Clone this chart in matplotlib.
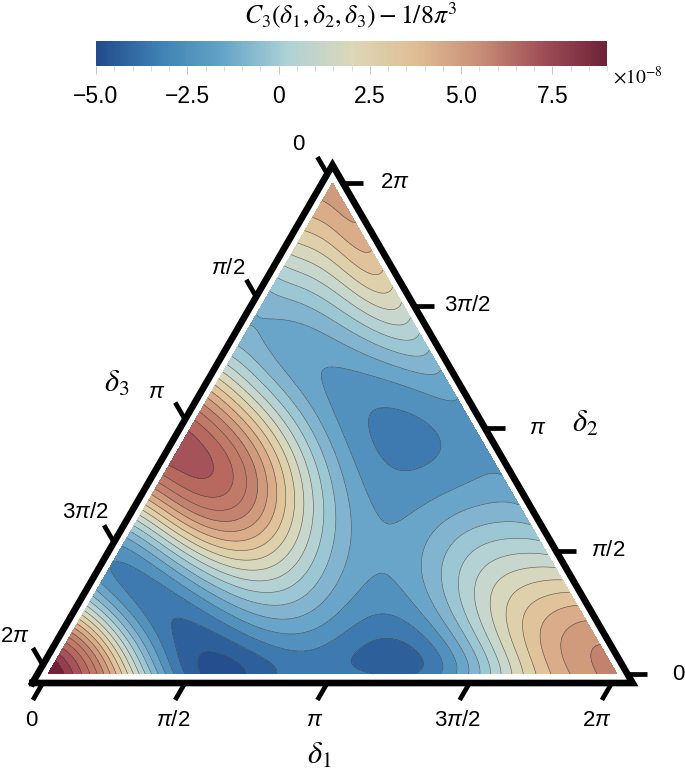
import numpy as np
import matplotlib
matplotlib.use('Agg')
import matplotlib.pyplot as plt
import matplotlib.tri as mtri
from matplotlib.colors import LinearSegmentedColormap

plt.rcParams['font.family'] = ['Liberation Sans', 'DejaVu Sans']
plt.rcParams['mathtext.fontset'] = 'custom'
plt.rcParams['mathtext.rm'] = 'Liberation Sans'
plt.rcParams['mathtext.it'] = 'Liberation Sans:italic'

# C3 - 1/8 pi^3 in units of 1e-8. Row n is delta2 = n*2pi/12,
# and entry m of a row is delta1 = m*2pi/12, delta3 is what is left over.
row_0 = [10, 5.7, 0.1, -3.7, -4.6, -3.5, -2.8, -3.95, -3.3, -1.01, 1.86, 4.1, 5.2]
row_1 = [4.8, 0.25, -3.46, -3.4, -2.6, -2.31, -3.18, -3.18, -1.5, 1.3, 3.61, 4.52]
row_2 = [-1.15, -3.18, -2.55, -0.52, -0.1, -1.5, -2.48, -1.71, 0.74, 2.21, 2.7]
row_3 = [-2.8, -0.45, 2.56, 2.21, 0.39, -1.61, -1.92, -0.52, 0.18, 0.39]
row_4 = [2.3, 4.8, 5.22, 2.56, -0.8, -2.27, -2.17, -1.36, -1.26]
row_5 = [6.41, 6.83, 4.17, 0.74, -1.99, -2.9, -2.48, -2.34]
row_6 = [6.97, 4.38, 1.16, -1.99, -3.18, -3.05, -2.48]
row_7 = [2.7, 0.18, -2.25, -2.4, -2.2, -2.06]
row_8 = [-0.52, -1.78, -1.54, -0.87, -0.52]
row_9 = [-1.5, -0.8, 0.6, 1.02]
row_10 = [0.74, 1.86, 2.98]
row_11 = [3.05, 4.05]
row_12 = [4.2]
rows = [row_0, row_1, row_2, row_3, row_4, row_5, row_6, row_7, row_8, row_9,
        row_10, row_11, row_12]

contour_step = 0.7
value_min = -5
value_max = 9

# one colour for each band between contours, lowest first
band_colors = ['#254e8f', '#2d5f9b', '#3e7aaf', '#5291be', '#69a5c8', '#82b4cf',
               '#9bc6d4', '#b4d2d4', '#c8d7cd', '#d7d7be', '#ded0aa', '#e1c39b',
               '#daac8a', '#d09b7d', '#c3826e', '#c17a67', '#b7695f', '#a55258',
               '#963e4e', '#732337']
bar_colors = ['#234b8c', '#3f82b4', '#66a5c8', '#afd2d7', '#dcd8b8', '#e0be96',
              '#c98f78', '#a04f58', '#6e2338']

tick_angles = [0, np.pi/2, np.pi, 3*np.pi/2, 2*np.pi]
delta1_labels = ['0', r'$\pi$/2', r'$\pi$', r'3$\pi$/2', r'2$\pi$']
delta2_labels = ['0', r'$\pi$/2', r'$\pi$', r'3$\pi$/2', r'2$\pi$']
delta3_labels = ['0', r'$\pi$/2', r'$\pi$', r'3$\pi$/2', r'2$\pi$']
bar_ticks = [-5, -2.5, 0, 2.5, 5, 7.5]
bar_tick_labels = ['\u22125.0', '\u22122.5', '0', '2.5', '5.0', '7.5']

FIG_W, FIG_H = 685, 771
SIDE = 2*np.pi


def to_cart(delta1, delta2):
    """Ternary coordinates to plot coordinates."""
    return delta1 + delta2/2, delta2*np.sqrt(3)/2


def poly_terms(x, y, degree):
    """All the monomials of x and y up to a degree, as columns."""
    return np.column_stack([x**a * y**b for a in range(degree + 1)
                            for b in range(degree + 1 - a)])


def put_text(x_px, y_px, string, **kwargs):
    """Centered text at a pixel position of the figure, y going down."""
    fig.text(x_px/FIG_W, 1 - y_px/FIG_H, string, ha='center', va='center', **kwargs)


fig = plt.figure(figsize=(FIG_W/100, FIG_H/100), dpi=100)

# main axes fill the figure, triangle spans x 48..617 and y 674..183 in pixels
ax = fig.add_axes([0, 0, 1, 1])
per_px_x = SIDE/569
per_px_y = SIDE*np.sqrt(3)/2/491
ax.set_xlim(-48*per_px_x, (FIG_W - 48)*per_px_x)
ax.set_ylim(-(FIG_H - 674)*per_px_y, 674*per_px_y)
ax.axis('off')

step = SIDE/12
d1 = np.concatenate([np.arange(len(r))*step for r in rows])
d2 = np.concatenate([np.full(len(r), n*step) for n, r in enumerate(rows)])
values = np.concatenate(rows)
x, y = to_cart(d1, d2)

# the table is read by eye, so take out the wobble with a smooth surface
tri = mtri.Triangulation(x, y)
fine_tri = mtri.UniformTriRefiner(tri).refine_triangulation(subdiv=4)
degree = 9
coefs = np.linalg.lstsq(poly_terms(x/SIDE, y/SIDE, degree), values, rcond=None)[0]
fine_values = poly_terms(fine_tri.x/SIDE, fine_tri.y/SIDE, degree) @ coefs

line_levels = value_min + contour_step*np.arange(1, 20)
fill_levels = np.concatenate([[-20], line_levels, [30]])
ax.tricontourf(fine_tri, fine_values, levels=fill_levels, colors=band_colors)
ax.tricontour(fine_tri, fine_values, levels=line_levels, colors='#3a3a3a',
              linewidths=0.45, alpha=0.75, linestyles='solid')

# frame sits a little outside the triangle
pad = 9/491*SIDE
tick_len = 17/491*SIDE
frame_d1 = [-pad, SIDE + 2*pad, -pad, -pad]
frame_d2 = [-pad, -pad, SIDE + 2*pad, -pad]
fx, fy = to_cart(np.array(frame_d1), np.array(frame_d2))
ax.plot(fx, fy, color='k', lw=4.8, solid_joinstyle='miter', clip_on=False)

for angle in tick_angles:
    # delta1 ticks point down and to the left
    tx, ty = to_cart(np.array([angle, angle]), np.array([-pad, -pad - tick_len]))
    ax.plot(tx, ty, color='k', lw=3.4, solid_capstyle='butt')
    # delta2 ticks are horizontal
    d3 = np.array([-pad, -pad - tick_len])
    tx, ty = to_cart(SIDE - angle - d3, np.array([angle, angle]))
    ax.plot(tx, ty, color='k', lw=3.4, solid_capstyle='butt')
    # delta3 ticks point up and to the left
    t1 = np.array([-pad, -pad - tick_len])
    tx, ty = to_cart(t1, SIDE - angle - t1)
    ax.plot(tx, ty, color='k', lw=3.4, solid_capstyle='butt')

tick_size = 16
for px, label in zip([31, 173, 315, 457, 597], delta1_labels):
    put_text(px, 720, label, fontsize=tick_size)
for (px, py), label in zip([(678, 674), (608, 551), (538, 428), (467, 306), (395, 183)],
                           delta2_labels):
    put_text(px, py, label, fontsize=tick_size)
for (px, py), label in zip([(298, 145), (228, 268), (157, 392), (85, 513), (15, 637)],
                           delta3_labels):
    put_text(px, py, label, fontsize=tick_size)

put_text(319, 756, r'$\delta_1$', fontsize=22, math_fontfamily='stix')
put_text(585, 424, r'$\delta_2$', fontsize=22, math_fontfamily='stix')
put_text(117, 384, r'$\delta_3$', fontsize=22, math_fontfamily='stix')

# colour bar on top
cax = fig.add_axes([96/FIG_W, 1 - 66/FIG_H, 511/FIG_W, 25/FIG_H])
bar_cmap = LinearSegmentedColormap.from_list('c3bar', bar_colors)
gradient = np.linspace(0, 1, 512)[np.newaxis, :]
cax.imshow(gradient, cmap=bar_cmap, aspect='auto', extent=[value_min, value_max, 0, 1])
cax.set_yticks([])
cax.set_xticks(bar_ticks)
cax.set_xticklabels(bar_tick_labels, fontsize=16.5)
cax.set_xticks(np.arange(value_min, value_max + 0.1, 0.5), minor=True)
cax.tick_params(axis='x', which='major', length=6, width=0.7, color='#c4c4c4', pad=8)
cax.tick_params(axis='x', which='minor', length=3.5, width=0.6, color='#d4d4d4')
for spine in cax.spines.values():
    spine.set_visible(False)

put_text(351, 15, r'$C_3(\delta_1,\delta_2,\delta_3)-1/8\pi^3$', fontsize=18.5,
         math_fontfamily='stix')
put_text(638, 77, r'$\times10^{-8}$', fontsize=14, math_fontfamily='stix')

fig.savefig('out.png', dpi=100)
